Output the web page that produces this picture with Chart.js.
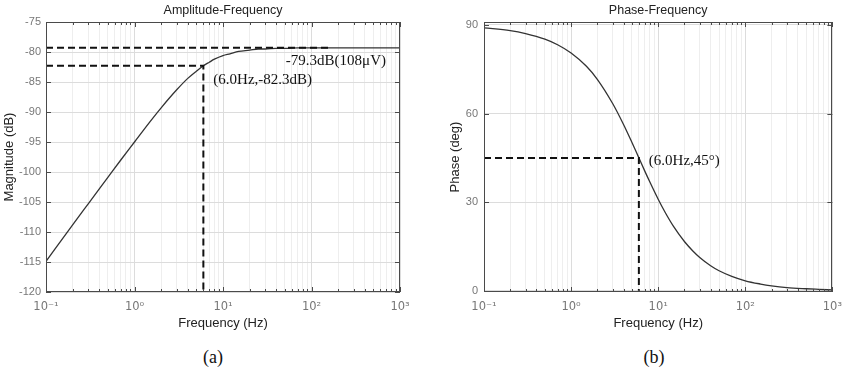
<!DOCTYPE html>
<html><head><meta charset="utf-8">
<script src="https://cdn.jsdelivr.net/npm/chart.js@4.4.1/dist/chart.umd.min.js"></script>
<style>
html,body{margin:0;padding:0;background:#fff;}
#wrap{position:relative;width:850px;height:368px;overflow:hidden;background:#fff;}
.box{position:absolute;top:0;width:425px;height:340px;}
.cap{position:absolute;top:344px;font-family:"Liberation Serif","Times New Roman",serif;font-size:18px;color:#111;transform:translateX(-50%);line-height:26px;}
</style></head><body>
<div id="wrap">
<div class="box" style="left:0"><canvas id="c1" width="425" height="340"></canvas></div>
<div class="box" style="left:425px"><canvas id="c2" width="425" height="340"></canvas></div>
<div class="cap" style="left:213px">(a)</div>
<div class="cap" style="left:654px">(b)</div>
</div>
<script>
// ---- data ----
const frequencies = [0.1,0.2,0.3,0.5,0.7,1,1.5,2,3,4,5,6,7,8,10,12,15,20,25,30,40,50,70,100,150,200,300,500,700,1000];
const magnitudeDb = [-114.9,-108.8,-105.3,-100.9,-98.0,-95.0,-91.6,-89.3,-86.3,-84.4,-83.2,-82.3,-81.7,-81.2,-80.6,-80.3,-79.9,-79.7,-79.5,-79.5,-79.4,-79.4,-79.3,-79.3,-79.3,-79.3,-79.3,-79.3,-79.3,-79.3];
const phaseDeg = [89.0,88.1,87.1,85.2,83.3,80.5,76.0,71.6,63.4,56.3,50.2,45.0,40.6,36.9,31.0,26.6,21.8,16.7,13.5,11.3,8.5,6.8,4.9,3.4,2.3,1.7,1.1,0.7,0.5,0.3];

const xDecades = [0.1,1,10,100,1000];
const xTickLabels = ['10⁻¹','10⁰','10¹','10²','10³'];
const phaseTicks = [0,30,60,90];

// marker (dashed) lines
const magPassbandX = [0.1,160];
const magPassbandY = [-79.3,-79.3];
const magCutoffX = [0.1,6,6];
const magCutoffY = [-82.3,-82.3,-120];
const phaseCutoffX = [0.1,6,6];
const phaseCutoffY = [45,45,0];

const magLabels = ['-79.3dB(108μV)','(6.0Hz,-82.3dB)'];
const magLabelX = [50,6];
const magLabelY = [-79.3,-82.3];
const phaseLabels = ['(6.0Hz,45°)'];
const phaseLabelX = [6];
const phaseLabelY = [45];

// ---- helpers ----
const pts = (xs, ys) => xs.map((v,i)=>({x:v,y:ys[i]}));
const allXTicks = [];
xDecades.forEach((d,i)=>{
  if (i === xDecades.length-1) { allXTicks.push({value:d, major:true}); return; }
  for (let k=1;k<=9;k++) allXTicks.push({value:+(k*d).toPrecision(6), major:k===1});
});

Chart.defaults.font.family = '"Liberation Sans", Arial, Helvetica, sans-serif';
Chart.defaults.color = '#777';

function framePlugin(items){
  return {
    id:'frame',
    afterDatasetsDraw(chart){
      const {ctx, chartArea:a, scales:{x,y}} = chart;
      ctx.save();
      ctx.strokeStyle = '#4a4a4a'; ctx.lineWidth = 1;
      ctx.strokeRect(Math.round(a.left)+0.5, Math.round(a.top)+0.5, Math.round(a.right-a.left)-1, Math.round(a.bottom-a.top)-1);
      ctx.beginPath();
      x.ticks.forEach(t=>{
        const px = Math.round(x.getPixelForValue(t.value))+0.5;
        const len = t.major?5:3;
        ctx.moveTo(px,a.bottom); ctx.lineTo(px,a.bottom-len);
        ctx.moveTo(px,a.top); ctx.lineTo(px,a.top+len);
      });
      y.ticks.forEach(t=>{
        const py = Math.round(y.getPixelForValue(t.value))+0.5;
        ctx.moveTo(a.left,py); ctx.lineTo(a.left+5,py);
        ctx.moveTo(a.right,py); ctx.lineTo(a.right-5,py);
      });
      ctx.stroke();
      ctx.font = '15px "Liberation Serif", "Times New Roman", serif';
      ctx.fillStyle = '#111'; ctx.textBaseline = 'middle'; ctx.textAlign = 'left';
      items.forEach(it=>{
        ctx.fillText(it.text, x.getPixelForValue(it.x)+it.dx, y.getPixelForValue(it.y)+it.dy);
      });
      ctx.restore();
    }
  };
}

function xScale(){
  return {
    type:'logarithmic', min:0.1, max:1000,
    afterBuildTicks: s => { s.ticks = allXTicks.map(t=>({value:t.value, major:t.major})); },
    afterFit: s => { s.height = 48; },
    border:{display:false},
    grid:{drawTicks:false, color: c => (c.tick && c.tick.major) ? '#dcdcdc' : '#eeeeee', lineWidth:1},
    ticks:{autoSkip:false, maxRotation:0, padding:8, color:'#777', font:{size:11.5, family:'"DejaVu Sans", sans-serif'},
      callback:(v,i,ticks)=>{ const k = xDecades.findIndex(d=>Math.abs(d-v)/d<1e-6); return k>=0 ? xTickLabels[k] : ''; }},
    title:{display:true, text:'Frequency (Hz)', color:'#222', font:{size:13}, padding:{top:0,bottom:8.8}}
  };
}

const lineCurve = {borderColor:'#333', borderWidth:1.3, pointRadius:0, cubicInterpolationMode:'monotone', fill:false};
const lineDash = {borderColor:'#111', borderWidth:2, borderDash:[7,4], pointRadius:0, tension:0, fill:false};

new Chart(document.getElementById('c1'), {
  type:'line',
  data:{datasets:[
    Object.assign({data:pts(magPassbandX,magPassbandY)}, lineDash),
    Object.assign({data:pts(magCutoffX,magCutoffY)}, lineDash),
    Object.assign({data:pts(frequencies,magnitudeDb)}, lineCurve)
  ]},
  options:{
    responsive:false, animation:false, events:[],
    layout:{padding:{left:0,right:25,top:0,bottom:0}},
    plugins:{legend:{display:false}, tooltip:{enabled:false},
      title:{display:true, fullSize:false, text:'Amplitude-Frequency', color:'#222', font:{size:12.5, weight:'normal'}, padding:{top:3,bottom:4}}},
    scales:{
      x: xScale(),
      y:{type:'linear', min:-120, max:-75,
        afterFit: s => { s.width = 46; },
        border:{display:false},
        grid:{drawTicks:false, color:'#dcdcdc'},
        ticks:{stepSize:5, padding:5, color:'#777', font:{size:11}},
        title:{display:true, text:'Magnitude (dB)', color:'#222', font:{size:13}, padding:{top:2,bottom:0}}}
    }
  },
  plugins:[framePlugin(magLabels.map((t,i)=>({text:t, x:magLabelX[i], y:magLabelY[i], dx: i===0?1:10, dy: i===0?13:14})))]
});

new Chart(document.getElementById('c2'), {
  type:'line',
  data:{datasets:[
    Object.assign({data:pts(phaseCutoffX,phaseCutoffY)}, lineDash),
    Object.assign({data:pts(frequencies,phaseDeg)}, lineCurve)
  ]},
  options:{
    responsive:false, animation:false, events:[],
    layout:{padding:{left:0,right:13,top:0,bottom:0}},
    plugins:{legend:{display:false}, tooltip:{enabled:false},
      title:{display:true, fullSize:false, text:'Phase-Frequency', color:'#222', font:{size:12.5, weight:'normal'}, padding:{top:3,bottom:4}}},
    scales:{
      x: xScale(),
      y:{type:'linear', min:-0.4, max:91,
        afterBuildTicks: s => { s.ticks = phaseTicks.map(v=>({value:v})); },
        afterFit: s => { s.width = 59; },
        border:{display:false},
        grid:{drawTicks:false, color:'#dcdcdc'},
        ticks:{padding:6, color:'#777', font:{size:11}},
        title:{display:true, text:'Phase (deg)', color:'#222', font:{size:13}, padding:{top:23,bottom:0}}}
    }
  },
  plugins:[framePlugin(phaseLabels.map((t,i)=>({text:t, x:phaseLabelX[i], y:phaseLabelY[i], dx:10, dy:3})))]
});
</script>
</body></html>
